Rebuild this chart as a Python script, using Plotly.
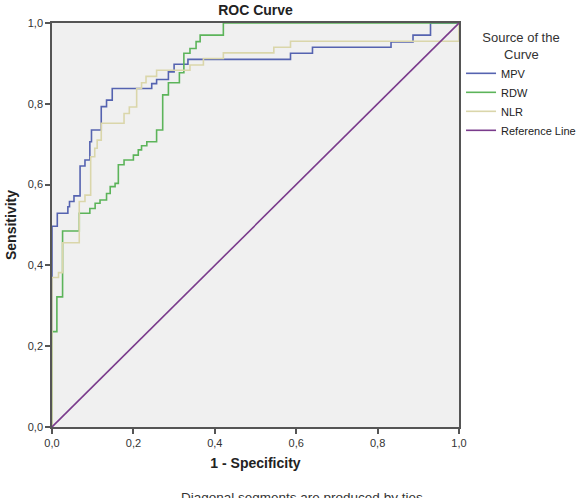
import plotly.graph_objects as go

# ---- data ----
mpv_x = [0, 0, 0.013, 0.039, 0.043, 0.054, 0.069, 0.081, 0.093, 0.097, 0.121, 0.134, 0.148,
         0.245, 0.257, 0.286, 0.300, 0.334, 0.586, 0.640, 0.833, 0.887, 0.930, 1.0]
mpv_y = [0, 0.497, 0.529, 0.545, 0.558, 0.572, 0.646, 0.661, 0.706, 0.735, 0.793, 0.809, 0.838,
         0.850, 0.860, 0.879, 0.898, 0.910, 0.925, 0.940, 0.953, 0.970, 1.0, 1.0]

rdw_x = [0, 0, 0.012, 0.026, 0.067, 0.093, 0.106, 0.118, 0.134, 0.143, 0.155, 0.163, 0.177,
         0.200, 0.212, 0.220, 0.233, 0.257, 0.272, 0.286, 0.313, 0.324, 0.339, 0.354, 0.364,
         0.421, 1.0]
rdw_y = [0, 0.236, 0.322, 0.485, 0.529, 0.541, 0.554, 0.562, 0.578, 0.595, 0.603, 0.649, 0.661,
         0.673, 0.686, 0.696, 0.706, 0.735, 0.822, 0.852, 0.877, 0.925, 0.937, 0.954, 0.970,
         1.0, 1.0]

nlr_x = [0, 0, 0.016, 0.026, 0.067, 0.081, 0.095, 0.105, 0.111, 0.121, 0.177, 0.190, 0.208,
         0.220, 0.231, 0.257, 0.339, 0.372, 0.421, 0.545, 0.586, 1.0, 1.0]
nlr_y = [0, 0.370, 0.382, 0.456, 0.558, 0.574, 0.669, 0.690, 0.710, 0.752, 0.776, 0.792, 0.838,
         0.852, 0.868, 0.883, 0.896, 0.912, 0.926, 0.940, 0.955, 0.955, 1.0]

ref_x = [0, 1]
ref_y = [0, 1]

tick_vals = [0, 0.2, 0.4, 0.6, 0.8, 1.0]
tick_text = ["0,0", "0,2", "0,4", "0,6", "0,8", "1,0"]

series = [
    ("MPV", mpv_x, mpv_y, "#5563B0", "hv"),
    ("RDW", rdw_x, rdw_y, "#5CB45A", "hv"),
    ("NLR", nlr_x, nlr_y, "#DAD6AA", "hv"),
    ("Reference Line", ref_x, ref_y, "#7A3B8C", "linear"),
]

FONT = "Liberation Sans, Arial"

fig = go.Figure()
for name, xs, ys, col, shape in series:
    fig.add_trace(go.Scatter(x=xs, y=ys, mode="lines", name=name,
                             line=dict(color=col, width=1.6, shape=shape)))

axis_common = dict(range=[0, 1], tickvals=tick_vals, ticktext=tick_text,
                   showgrid=False, zeroline=False, showline=True, mirror=True,
                   linecolor="#555555", linewidth=1.5, ticks="outside", ticklen=5,
                   tickcolor="#555555", tickwidth=1.5,
                   tickfont=dict(family=FONT, size=11, color="#333333"))

fig.update_layout(
    width=582, height=498,
    margin=dict(l=52, r=123, t=23, b=71, autoexpand=False),
    paper_bgcolor="white", plot_bgcolor="#F0F0F0",
    title=dict(text="<b>ROC Curve</b>", x=(52 + 459) / 2 / 582, xanchor="center",
               y=1 - 10 / 498, yanchor="middle",
               font=dict(family=FONT, size=14, color="#222222")),
    xaxis=dict(**axis_common,
               title=dict(text="<b>1 - Specificity</b>", standoff=10,
                          font=dict(family=FONT, size=14, color="#222222"))),
    yaxis=dict(**axis_common,
               title=dict(text="<b>Sensitivity</b>", standoff=8,
                          font=dict(family=FONT, size=14, color="#222222"))),
    legend=dict(x=1.005, y=0.995, xanchor="left", yanchor="top",
                bgcolor="rgba(0,0,0,0)", itemwidth=30, tracegroupgap=0,
                font=dict(family=FONT, size=11, color="#222222"),
                title=dict(text="Source of the<br>" + "\u00a0" * 6 + "Curve", side="top center",
                           font=dict(family=FONT, size=13, color="#333333"))),
    showlegend=True,
)

fig.add_annotation(text="Diagonal segments are produced by ties.", xref="paper", yref="paper",
                   x=0.617, y=-0.175, xanchor="center", yanchor="middle", showarrow=False,
                   font=dict(family=FONT, size=13.5, color="#333333"))

fig.write_html("out.html")
